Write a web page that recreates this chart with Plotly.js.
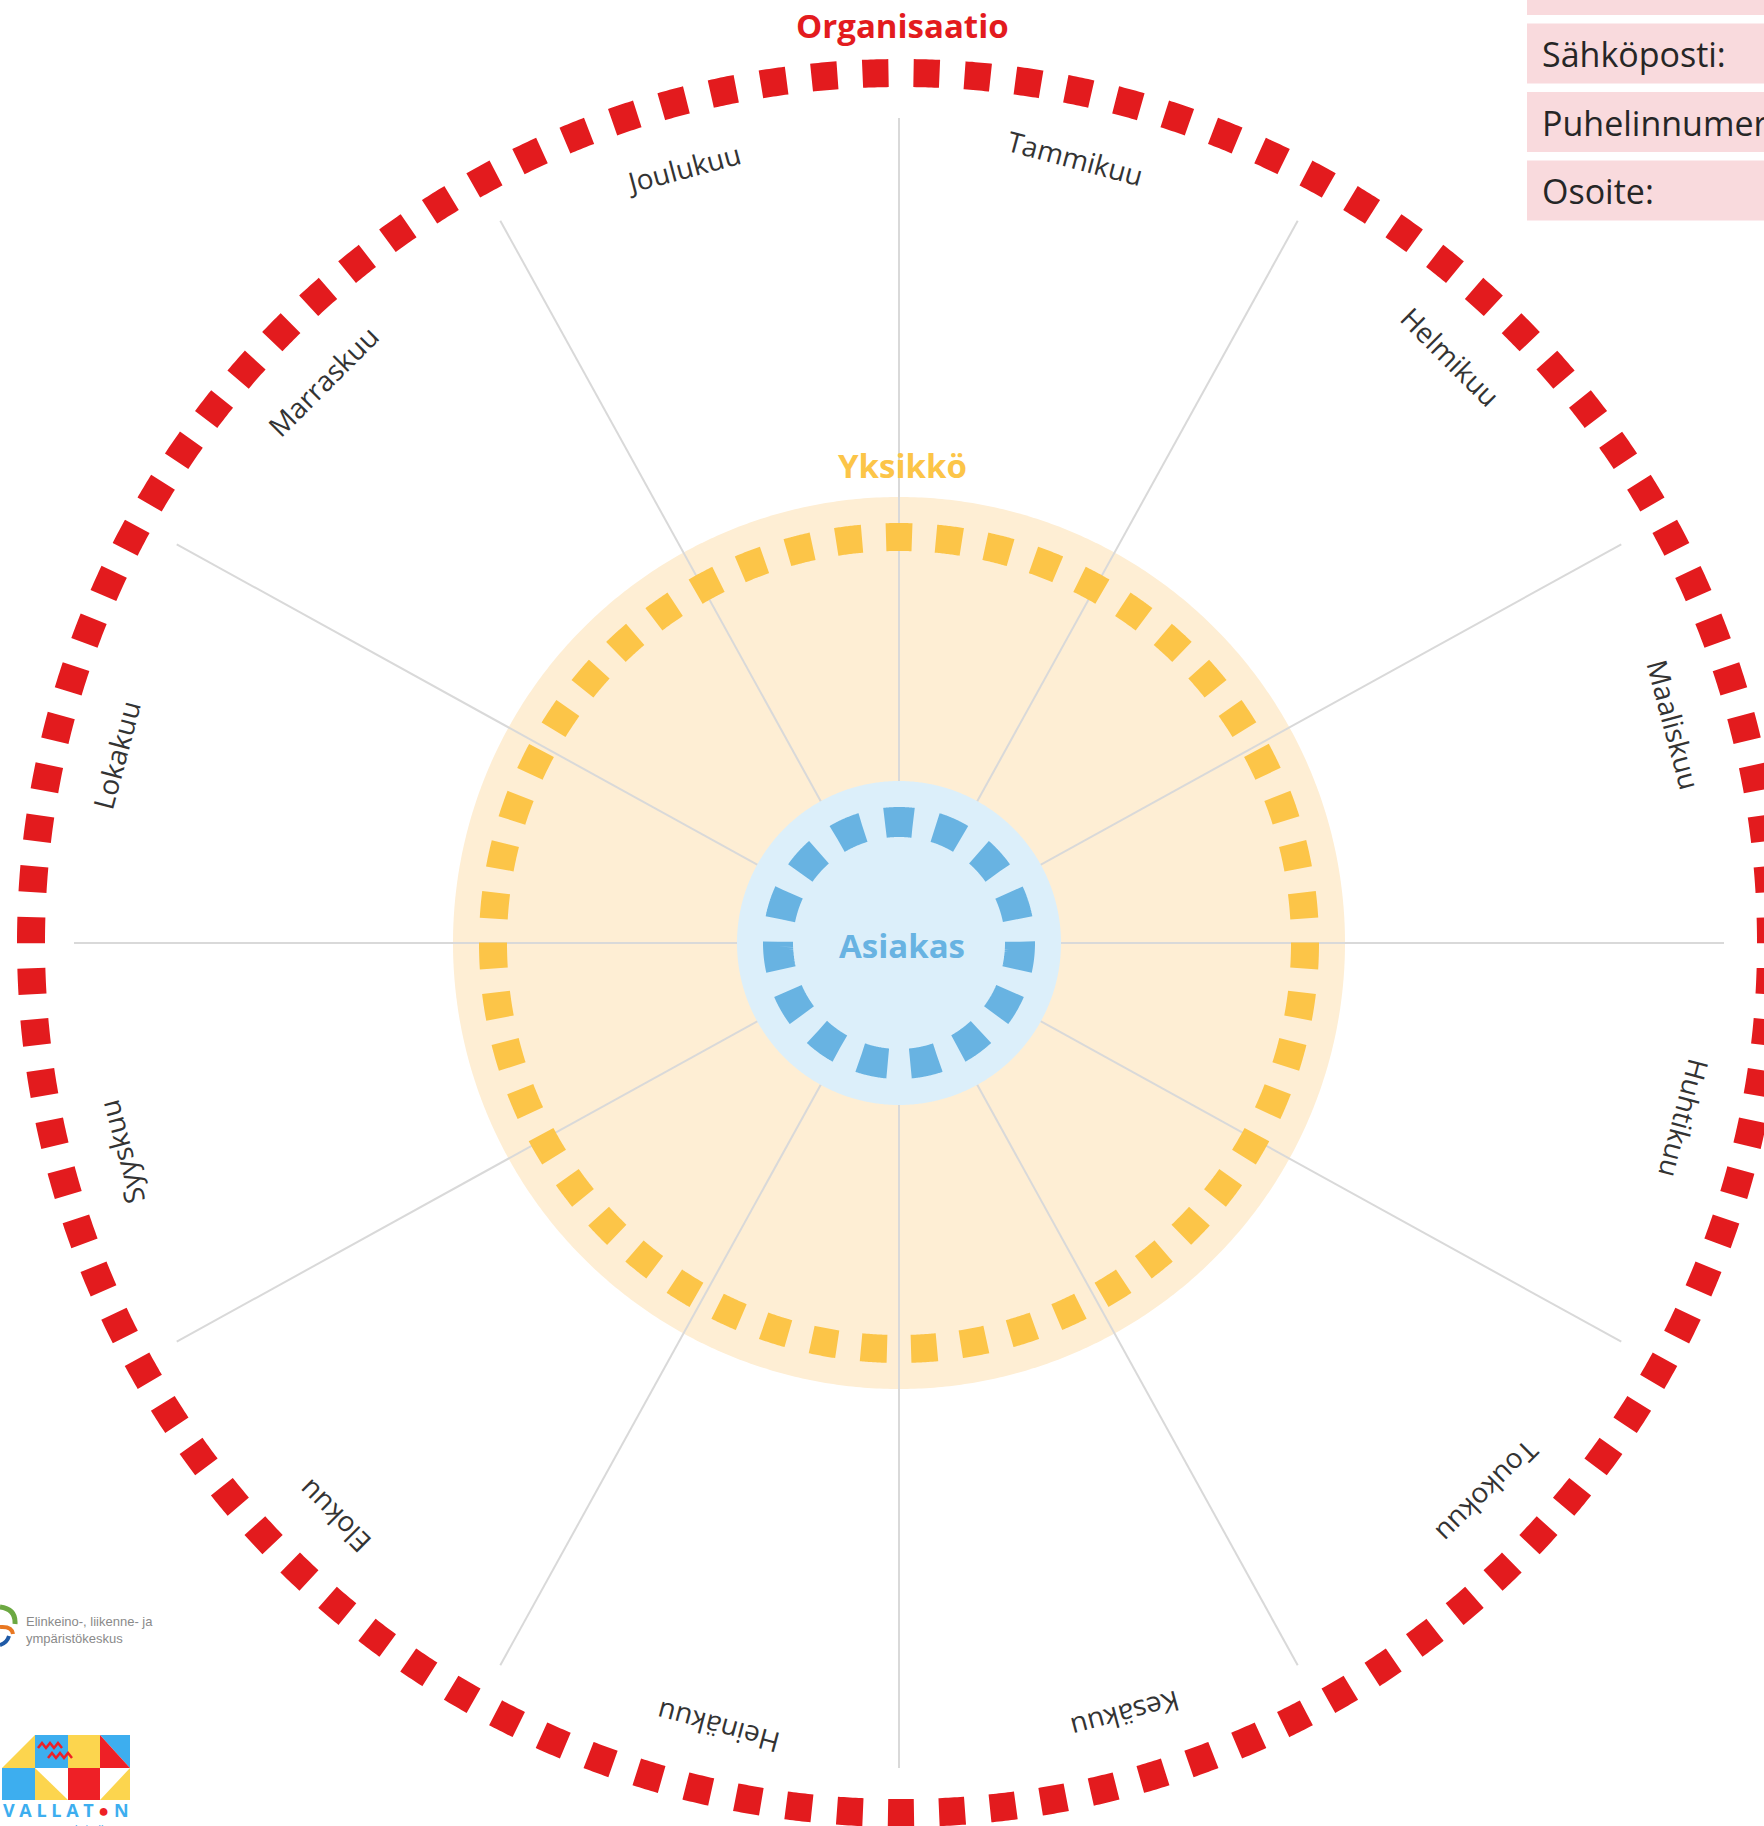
<!DOCTYPE html>
<html>
<head>
<meta charset="utf-8">
<script src="https://cdn.plot.ly/plotly-3.0.1.min.js"></script>
<style>html,body{margin:0;padding:0;background:#fff;overflow:hidden}</style>
</head>
<body>
<div id="chart" style="width:1764px;height:1826px"></div>
<script>
// ---- data (texts of the year wheel) ----
const months = ['Tammikuu','Helmikuu','Maaliskuu','Huhtikuu','Toukokuu','Kesäkuu',
                'Heinäkuu','Elokuu','Syyskuu','Lokakuu','Marraskuu','Joulukuu'];
const ringNames = ['Organisaatio','Yksikkö','Asiakas'];
const contactFields = ['Nimi:','Sähköposti:','Puhelinnumero:','Osoite:'];
const elyLines = ['Elinkeino-, liikenne- ja','ympäristökeskus'];
const logoName = 'VALLATON';
const logoSub = 'vammaistyö';

// ---- geometry / style ----
const W = 1764, H = 1826, CX = 899, CY = 943;
const dx = p => p - CX, dy = p => CY - p;
const RED = '#E31B1E', YEL = '#FCC548', BLU = '#68B3E2';
// small hand-placement offsets of the month labels in the original (degrees)
const LABEL_NUDGE = [-2.3, -1.8, -0.7, -2.4, -2.0, -1.3, -2.0, -0.4, 0.0, -1.5, -0.7, -0.6];

function circlePts(r, startArc, n, ox) {
  const xs = [], ys = [];
  for (let i = 0; i <= n; i++) {
    const t = (startArc + 2 * Math.PI * r * i / n) / r;
    xs.push((ox || 0) + r * Math.sin(t)); ys.push(r * Math.cos(t));
  }
  return {xs, ys};
}
function dashedRing(r, width, dashLen, count, color, gapAtTop, ox) {
  const circ = 2 * Math.PI * r, gap = circ / count - dashLen;
  const start = gapAtTop ? gap / 2 : -dashLen / 2;
  const p = circlePts(r, start, 1800, ox);
  return {type: 'scatter', mode: 'lines', x: p.xs, y: p.ys, hoverinfo: 'skip',
    line: {color: color, width: width, dash: dashLen + 'px,' + gap.toFixed(3) + 'px', simplify: false}};
}
function disk(r, color) {
  const p = circlePts(r, 0, 720);
  return {type: 'scatter', mode: 'lines', x: p.xs, y: p.ys, fill: 'toself', fillcolor: color,
    line: {width: 0, color: color, simplify: false}, hoverinfo: 'skip'};
}

// spokes between the month sectors
const L = 825, spokeX = [], spokeY = [];
const nSpokes = months.length / 2;
for (let k = 0; k < nSpokes; k++) {
  const nominal = k * (360 / months.length);
  const aDeg = nominal - 1.27 * Math.sin(4 * nominal * Math.PI / 180);
  const a = aDeg * Math.PI / 180;
  spokeX.push(-L * Math.sin(a), L * Math.sin(a), null);
  spokeY.push(-L * Math.cos(a), L * Math.cos(a), null);
}
const spokes = {type: 'scatter', mode: 'lines', x: spokeX, y: spokeY, hoverinfo: 'skip',
  line: {color: '#D9D9D9', width: 2}};

const traces = [
  disk(446, '#FEEED4'),
  spokes,
  dashedRing(406, 28, 26, 51, YEL, false),
  disk(162, '#DCEFFA'),
  dashedRing(121, 30, 28, 15, BLU, false),
  dashedRing(870, 28, 26, 107, RED, true, 2)
];

const annotations = [];
// month labels
const R_LAB = 805;
months.forEach((m, k) => {
  const nominal = 360 / months.length * (k + 0.5);
  const a = nominal + LABEL_NUDGE[k];
  const rad = a * Math.PI / 180;
  annotations.push({x: R_LAB * Math.sin(rad), y: R_LAB * Math.cos(rad), xref: 'x', yref: 'y',
    text: m, showarrow: false, textangle: nominal > 180 ? nominal - 360 : nominal,
    xanchor: 'center', yanchor: 'middle',
    font: {family: 'Open Sans', size: 28, color: '#333333'}});
});
// ring titles
const ringTitleY = [25, 465, 945];
const ringColors = [RED, YEL, BLU];
ringNames.forEach((t, i) => {
  annotations.push({x: dx(902), y: dy(ringTitleY[i]), xref: 'x', yref: 'y', text: '<b>' + t + '</b>',
    showarrow: false, xanchor: 'center', yanchor: 'middle',
    font: {family: 'Open Sans', size: 33, color: ringColors[i]}});
});

const shapes = [];
// contact boxes (top right)
contactFields.forEach((t, i) => {
  const top = -45 + i * 68.5;
  shapes.push({type: 'rect', xref: 'x', yref: 'y', x0: dx(1527), x1: dx(1800), y0: dy(top), y1: dy(top + 60),
    fillcolor: '#F9DADD', line: {width: 0}, layer: 'below'});
  annotations.push({x: 1540 / W, y: 1 - (top + 31) / H, xref: 'paper', yref: 'paper', text: t,
    showarrow: false, xanchor: 'left', yanchor: 'middle',
    font: {family: 'Open Sans', size: 34, color: '#262626'}});
});

// ELY logo
function path(pts, close) {
  return pts.map((p, i) => (i ? 'L ' : 'M ') + dx(p[0]) + ' ' + dy(p[1])).join(' ') + (close ? ' Z' : '');
}
function qpath(p0, c, p1) {
  return 'M ' + dx(p0[0]) + ' ' + dy(p0[1]) + ' Q ' + dx(c[0]) + ' ' + dy(c[1]) + ' ' + dx(p1[0]) + ' ' + dy(p1[1]);
}
shapes.push({type: 'path', xref: 'x', yref: 'y', path: qpath([0, 1607], [16, 1609], [15, 1624]), line: {color: '#6CA842', width: 5}});
shapes.push({type: 'path', xref: 'x', yref: 'y', path: qpath([0, 1627], [12, 1626], [13, 1634]), line: {color: '#E87722', width: 4}});
shapes.push({type: 'path', xref: 'x', yref: 'y', path: qpath([0, 1645], [7, 1643], [9, 1636]), line: {color: '#1F5AA6', width: 4}});
annotations.push({x: dx(24), y: dy(1630), xref: 'x', yref: 'y', text: elyLines.join('<br>'), showarrow: false,
  xanchor: 'left', yanchor: 'middle', align: 'left',
  font: {family: 'Liberation Sans', size: 13, color: '#8A8A8A'}});

// Vallaton logo
const LB = '#3DAEEF', LY = '#FCD54E', LR = '#EE2026';
const tiles = [
  [[[2,1768],[35,1735],[35,1768]], LY],
  [[[35,1735],[68,1735],[68,1768],[35,1768]], LB],
  [[[68,1735],[100,1735],[100,1768],[68,1768]], LY],
  [[[100,1735],[130,1735],[130,1768]], LB],
  [[[100,1735],[100,1768],[130,1768]], LR],
  [[[2,1768],[35,1768],[35,1800],[2,1800]], LB],
  [[[35,1768],[35,1800],[68,1800]], LY],
  [[[68,1768],[100,1768],[100,1800],[68,1800]], LR],
  [[[100,1800],[130,1768],[130,1800]], LY]
];
tiles.forEach(t => shapes.push({type: 'path', xref: 'x', yref: 'y', path: path(t[0], true),
  fillcolor: t[1], line: {width: 0}}));
[[38, 1748], [48, 1758]].forEach(o => {
  const pts = [];
  for (let j = 0; j <= 6; j++) pts.push([o[0] + j * 4, o[1] - (j % 2 ? 5 : 0)]);
  shapes.push({type: 'path', xref: 'x', yref: 'y', path: path(pts, false), line: {color: LR, width: 2.5}});
});
const logoText = logoName.split('').map(ch => ch === 'O' ? "<span style='color:" + LR + "'>●</span>" : ch).join(' ');
annotations.push({x: dx(66), y: dy(1810), xref: 'x', yref: 'y', text: '<b>' + logoText + '</b>', showarrow: false,
  xanchor: 'center', yanchor: 'middle', font: {family: 'Open Sans', size: 18, color: LB}});
annotations.push({x: 65 / W, y: 1 - 1829 / H, xref: 'paper', yref: 'paper', text: logoSub, showarrow: false,
  xanchor: 'center', yanchor: 'middle', font: {family: 'Open Sans', size: 14, color: LB}});

const layout = {
  width: W, height: H,
  margin: {l: 0, r: 0, t: 0, b: 0, pad: 0},
  paper_bgcolor: '#ffffff', plot_bgcolor: '#ffffff',
  showlegend: false,
  xaxis: {range: [-CX, W - CX], visible: false, fixedrange: true},
  yaxis: {range: [-(H - CY), CY], visible: false, fixedrange: true},
  annotations: annotations,
  shapes: shapes
};
Plotly.newPlot('chart', traces, layout, {displayModeBar: false, staticPlot: true});
</script>
</body>
</html>
